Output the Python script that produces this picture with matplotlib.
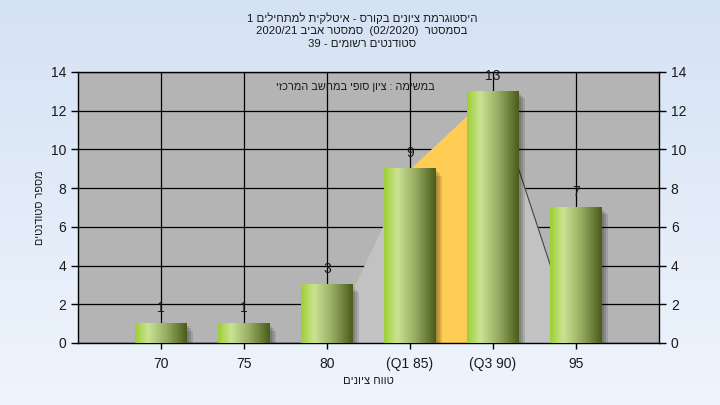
import numpy as np
import matplotlib
matplotlib.use('Agg')
import matplotlib.pyplot as plt
from matplotlib.colors import LinearSegmentedColormap
from matplotlib.patches import Rectangle

plt.rcParams['font.family'] = ['Liberation Sans', 'DejaVu Sans']

# data
categories = ['70', '75', '80', '(Q1 85)', '(Q3 90)', '95']
counts = [1, 1, 3, 9, 13, 7]
area_vals = [0, 0, 0, 9, 13, 0]      # light grey background area
quart_idx = [3, 4]                   # Q1..Q3 highlighted range

title_lines = ['היסטוגרמת ציונים בקורס - איטלקית למתחילים 1',
               'בסמסטר  (02/2020)  סמסטר אביב 2020/21',
               'סטודנטים רשומים - 39']
note = 'במשימה : ציון סופי במחשב המרכזי'
xlabel = 'טווח ציונים'
ylabel = 'מספר סטודנטים'


def vis(s):
    # crude RTL -> visual order (reverse, keep digit runs LTR, mirror brackets)
    r = s[::-1]
    out, run = '', ''
    for ch in r:
        if ch.isdigit() or ch in '/.':
            run += ch
        else:
            out += run[::-1]
            run = ''
            out += {'(': ')', ')': '('}.get(ch, ch)
    out += run[::-1]
    return out


fig = plt.figure(figsize=(7.2, 4.05), dpi=100)

# background gradient
bg = fig.add_axes([0, 0, 1, 1], zorder=-10)
grad = np.linspace(0, 1, 256).reshape(-1, 1)
bg_cmap = LinearSegmentedColormap.from_list('bg', ['#d5e2f4', '#eff5fd'])
bg.imshow(grad, cmap=bg_cmap, aspect='auto', extent=[0, 1, 0, 1], origin='upper')
bg.axis('off')

ax = fig.add_axes([78 / 720, 62 / 405, 581 / 720, 271 / 405])
ax.set_facecolor('#b4b4b4')
x = np.arange(len(categories))
ax.set_xlim(-1, len(categories))
ax.set_ylim(0, 14)
ax.set_autoscale_on(False)

ax.grid(True, color='black', lw=0.9, zorder=0)
ax.set_axisbelow(True)

# light area + quartile highlight
ax.fill_between(x, area_vals, color='#c2c2c2', zorder=1, lw=0)
qx = np.array(quart_idx)
ax.fill_between(qx, [counts[i] for i in quart_idx], color='#ffcc55', zorder=1.5, lw=0)
ax.plot(x[4:6], area_vals[4:6], color='#444444', lw=0.8, zorder=1.6)

bar_cmap = LinearSegmentedColormap.from_list(
    'bar', [(0, '#9ccf34'), (0.25, '#cbe393'), (0.6, '#97ad63'), (1, '#4a5c1b')])
hgrad = np.linspace(0, 1, 128).reshape(1, -1)
w = 0.62
for xi, c in zip(x, counts):
    # soft shadow
    for k, a in enumerate([0.12, 0.12, 0.12]):
        off = 0.03 + 0.025 * k
        ax.add_patch(Rectangle((xi - w / 2 + off, -0.5), w, c + 0.5 - 0.12 * (k + 1),
                               color='black', alpha=a, lw=0, zorder=2))
    ax.imshow(hgrad, cmap=bar_cmap, aspect='auto',
              extent=[xi - w / 2, xi + w / 2, 0, c], zorder=3)
    ax.text(xi, c + 0.45, str(c), ha='center', va='bottom', fontsize=10,
            color='#1a1a1a', zorder=5)

ax.set_xlim(-1, len(categories))
ax.set_ylim(0, 14)

ax.set_xticks(x)
ax.set_xticklabels(categories, fontsize=10, color='#1a1a1a')
ax.set_yticks(range(0, 15, 2))
ax.tick_params(axis='y', labelsize=10, labelcolor='#1a1a1a', length=5, width=1.0,
               left=True, right=True, labelleft=True, labelright=True)
ax.tick_params(axis='x', length=4, width=1, pad=6)
for s in ax.spines.values():
    s.set_linewidth(1.0)
    s.set_color('black')

ax.set_xlabel(vis(xlabel), fontsize=8, labelpad=4, color='#1a1a1a')
ax.set_ylabel(vis(ylabel), fontsize=7.8, labelpad=4, color='#1a1a1a')

ax.text(0.477, 0.945, vis(note), transform=ax.transAxes, ha='center', va='center',
        fontsize=7.8, color='#1a1a1a', zorder=6)

for i, line in enumerate(title_lines):
    fig.text(0.503, 1 - (18 + 13 * i) / 405, vis(line), ha='center', va='center',
             fontsize=8.2, color='#1a1a1a')

fig.savefig('out.png', dpi=100)
